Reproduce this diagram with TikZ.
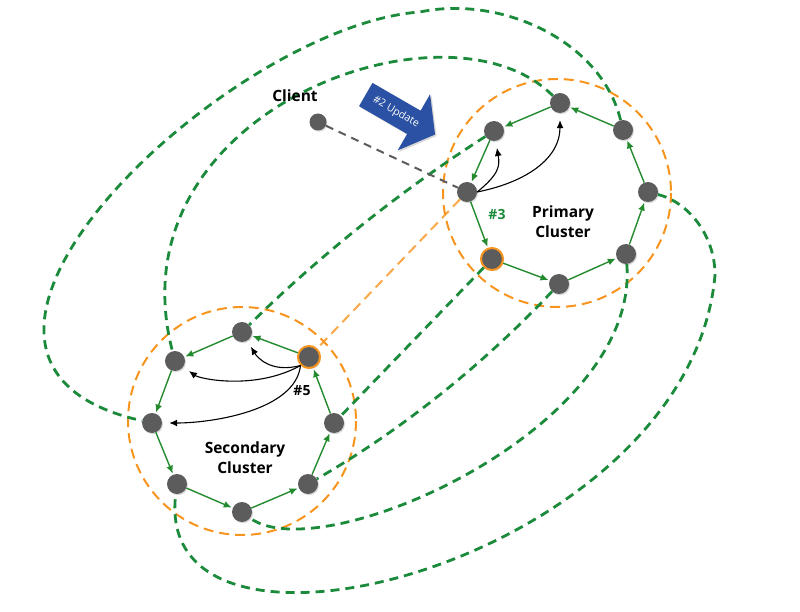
\documentclass[tikz,border=0pt]{standalone}
\usepackage{fontspec}
\setsansfont{Open Sans}
\usetikzlibrary{arrows.meta,shapes.arrows,shadows}
\definecolor{ringgreen}{HTML}{1B8A3B}
\definecolor{edgegreen}{HTML}{238B2E}
\definecolor{clorange}{HTML}{F7941D}
\definecolor{nodegray}{HTML}{5C5C5C}
\definecolor{updblue}{HTML}{2A51A3}

\begin{document}
\begin{tikzpicture}[x=1pt,y={(0pt,-1pt)},font=\sffamily,
  member/.style={circle,fill=nodegray,minimum size=20pt,inner sep=0pt,
    drop shadow={opacity=0.3,shadow xshift=1pt,shadow yshift=-1.2pt}},
  leader/.style={member,draw=clorange,line width=2pt,minimum size=22pt},
  ringedge/.style={edgegreen,line width=1.4pt,-{Latex[length=8pt,width=7pt]},shorten >=1pt},
  notify/.style={black,line width=1.1pt,-{Latex[length=8pt,width=7pt]},shorten >=7pt},
  token/.style={ringgreen,line width=2.8pt,dash pattern=on 9pt off 6pt},
  cluster/.style={clorange,line width=2pt,dash pattern=on 10pt off 6pt},
  lbl/.style={font=\sffamily\bfseries\fontsize{15.5}{20}\selectfont,align=center}]
\useasboundingbox (0,0) rectangle (800,612);

% clusters
\draw[cluster] (557,193) circle[radius=114];
\draw[cluster] (242,421) circle[radius=114];

% primary ring
\node[member] (p1) at (560,103) {};
\node[member] (p2) at (623,130) {};
\node[member] (p3) at (648,192) {};
\node[member] (p4) at (626,254) {};
\node[member] (p5) at (559,284) {};
\node[leader] (p6) at (492,259) {};
\node[member] (p7) at (467,192) {};
\node[member] (p8) at (494,131) {};

% secondary ring
\node[member] (s1) at (242,332) {};
\node[member] (s2) at (175,361) {};
\node[member] (s3) at (152,423) {};
\node[member] (s4) at (177,484) {};
\node[member] (s5) at (242,512) {};
\node[member] (s6) at (308,484) {};
\node[member] (s7) at (334,423) {};
\node[leader] (s8) at (309,357) {};

\node[member,minimum size=17pt] (client) at (318,122) {};
\coordinate (arcnw) at (420,12);
\coordinate (arcse) at (715,275);

% token rings between the clusters
\draw[token] (p1) .. controls +(-112,-113) and +(-65,-250) .. (s2);
\draw[token] (p2) .. controls +(-22,-90) and +(80,-17) .. (arcnw)
  .. controls +(-190,13) and +(-282,-63) .. (s3);
\draw[token] (p3) .. controls +(40,10) and +(0,-40) .. (arcse)
  .. controls +(-25,285) and +(-27,217) .. (s4);
\draw[token] (p4) .. controls +(14,176) and +(78,58) .. (s5);
\draw[token] (p5) .. controls +(-74,79) and +(94,-54) .. (s6);
\draw[token] (p6) -- (s7);
\draw[token] (p8) .. controls +(-91,58) and +(77,-76) .. (s1);
\draw[cluster,opacity=0.8] (p7) -- (s8);
\draw[nodegray,line width=2pt,dash pattern=on 8pt off 6pt] (client) -- (p7);

\foreach \a/\b in {p6/p5,p5/p4,p4/p3,p3/p2,p2/p1,p1/p8,p8/p7,p7/p6}
  \draw[ringedge] (\a) -- (\b);
\foreach \a/\b in {s8/s1,s1/s2,s2/s3,s3/s4,s4/s5,s5/s6,s6/s7,s7/s8}
  \draw[ringedge] (\a) -- (\b);

% replication
\draw[notify] (p7.east) .. controls +(22,-18) and +(6,35) .. (p8);
\draw[notify] (p7.east) .. controls +(50,-10) and +(0,55) .. (p1);
\draw[notify] (s8.south west) .. controls +(-30,8) and +(15,25) .. (s1);
\draw[notify] (s8.south west) .. controls +(-45,25) and +(25,18) .. (s2);
\draw[notify] (s8.south west) .. controls +(-5,45) and +(60,0) .. (s3);

% labels
\node[lbl] (plabel) at (563,222) {Primary\\Cluster};
\node[lbl] (slabel) at (245,458) {Secondary\\Cluster};
\node[lbl] (clabel) at (295,96) {Client};
\node[lbl,font=\sffamily\bfseries\fontsize{14}{16}\selectfont,ringgreen] (step3) at (497,215) {\#3};
\node[lbl,font=\sffamily\bfseries\fontsize{14}{16}\selectfont] (step5) at (302,391) {\#5};
\node[single arrow,fill=updblue,text=white,rotate=-30,minimum height=80pt,
  single arrow head extend=19pt,single arrow tip angle=106,inner xsep=2pt,inner ysep=8pt,
  font=\sffamily\fontsize{10.5}{12}\selectfont,
  drop shadow={opacity=0.3,shadow xshift=1.5pt,shadow yshift=-1.5pt}] (update) at (396,112) {\#2 Update};
\end{tikzpicture}
\end{document}
